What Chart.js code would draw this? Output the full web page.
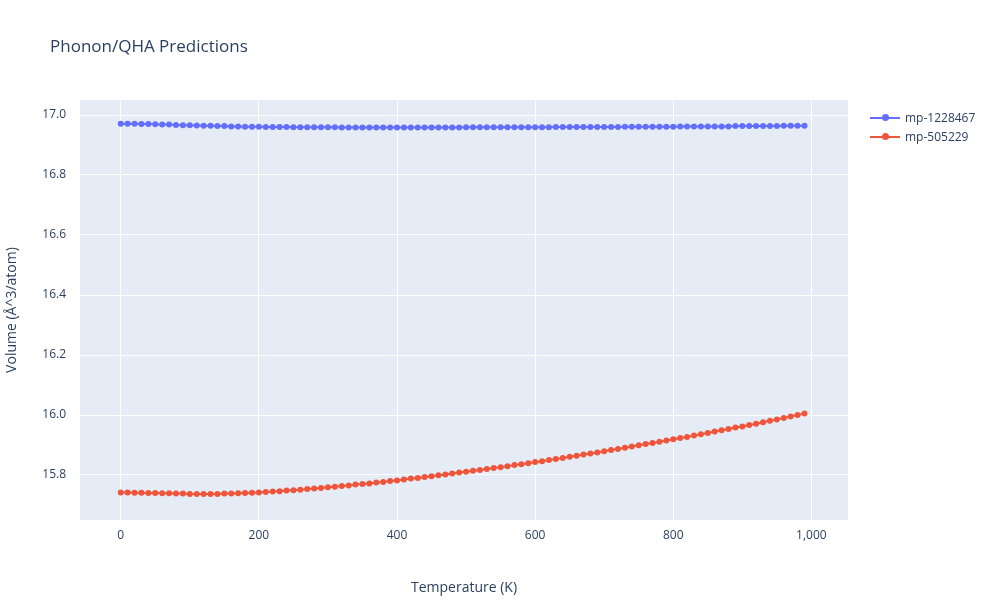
<!DOCTYPE html>
<html>
<head>
<meta charset="utf-8">
<script src="https://cdn.jsdelivr.net/npm/chart.js@4"></script>
<style>
body{margin:0;background:#fff;font-family:"Open Sans",sans-serif;}
#wrap{position:relative;width:1000px;height:600px;}
#title{position:absolute;left:50px;top:34px;font-size:17px;color:#2a3f5f;}
#legend{position:absolute;left:870px;top:108px;font-size:12px;color:#2a3f5f;}
.item{display:flex;align-items:center;height:19px;}
.sw{position:relative;width:30px;height:2px;margin-right:5px;}
.sw i{position:absolute;left:12px;top:-3px;width:7px;height:7px;border-radius:50%;}
</style>
</head>
<body>
<div id="wrap">
<canvas id="chart" width="1000" height="600"></canvas>
<div id="title">Phonon/QHA Predictions</div>
<div id="legend">
<div class="item"><div class="sw" style="background:#636efa"><i style="background:#636efa"></i></div>mp-1228467</div>
<div class="item"><div class="sw" style="background:#EF553B"><i style="background:#EF553B"></i></div>mp-505229</div>
</div>
</div>
<script>
// DATA

const temps = [0,10,20,30,40,50,60,70,80,90,100,110,120,130,140,150,160,170,180,190,200,210,220,230,240,250,260,270,280,290,300,310,320,330,340,350,360,370,380,390,400,410,420,430,440,450,460,470,480,490,500,510,520,530,540,550,560,570,580,590,600,610,620,630,640,650,660,670,680,690,700,710,720,730,740,750,760,770,780,790,800,810,820,830,840,850,860,870,880,890,900,910,920,930,940,950,960,970,980,990];

const volBlue = [16.971,16.971,16.971,16.970,16.970,16.969,16.968,16.968,16.967,16.966,16.966,16.965,16.964,16.964,16.963,16.963,16.962,16.962,16.961,16.961,16.961,16.960,16.960,16.960,16.960,16.959,16.959,16.959,16.959,16.959,16.959,16.959,16.958,16.958,16.958,16.958,16.958,16.958,16.958,16.958,16.958,16.958,16.958,16.958,16.958,16.958,16.958,16.958,16.958,16.958,16.959,16.959,16.959,16.959,16.959,16.959,16.959,16.959,16.959,16.959,16.959,16.959,16.959,16.960,16.960,16.960,16.960,16.960,16.960,16.960,16.960,16.960,16.960,16.961,16.961,16.961,16.961,16.961,16.961,16.961,16.961,16.962,16.962,16.962,16.962,16.962,16.962,16.962,16.962,16.963,16.963,16.963,16.963,16.963,16.963,16.963,16.964,16.964,16.964,16.964];

const volRed = [15.742,15.742,15.741,15.741,15.740,15.740,15.739,15.739,15.738,15.738,15.737,15.737,15.737,15.737,15.737,15.738,15.738,15.739,15.740,15.741,15.742,15.743,15.745,15.746,15.748,15.749,15.751,15.753,15.755,15.757,15.759,15.761,15.763,15.765,15.768,15.770,15.772,15.775,15.777,15.780,15.782,15.785,15.788,15.790,15.793,15.796,15.799,15.802,15.805,15.808,15.811,15.814,15.817,15.820,15.823,15.826,15.829,15.833,15.836,15.839,15.843,15.846,15.850,15.853,15.857,15.861,15.864,15.868,15.872,15.875,15.879,15.883,15.887,15.891,15.895,15.899,15.903,15.907,15.911,15.915,15.919,15.923,15.927,15.932,15.936,15.940,15.945,15.949,15.953,15.958,15.962,15.967,15.971,15.976,15.981,15.985,15.990,15.995,16.000,16.005];

const seriesNames = ["mp-1228467","mp-505229"];
const xTicks = [0,200,400,600,800,1000];
const yTicks = [15.8,16,16.2,16.4,16.6,16.8,17];

// CHART

function pts(vals){
return temps.map(function(t,i){ return {x:t,y:vals[i]}; });
}

const plotBg = {
id:"plotBg",
beforeDraw(chart){
const a = chart.chartArea;
const ctx = chart.ctx;
ctx.save();
ctx.fillStyle = "#e5ecf6";
ctx.fillRect(a.left,a.top,a.right-a.left,a.bottom-a.top);
ctx.restore();
}
};

new Chart(
document.getElementById("chart"),
{
type:"line",
data:{
datasets:[
{label:seriesNames[0],data:pts(volBlue),borderColor:"#636efa",backgroundColor:"#636efa",borderWidth:2,pointRadius:3,pointBorderWidth:0},
{label:seriesNames[1],data:pts(volRed),borderColor:"#EF553B",backgroundColor:"#EF553B",borderWidth:2,pointRadius:3,pointBorderWidth:0}
]
},
options:{
responsive:false,
animation:false,
layout:{padding:{left:0,right:152,top:100,bottom:0}},
plugins:{legend:{display:false},tooltip:{enabled:false}},
scales:{
x:{
type:"linear",min:-59,max:1053,
afterBuildTicks(s){ s.ticks = xTicks.map(function(v){return {value:v};}); },
afterFit(s){ s.height = 80; },
grid:{color:"#ffffff",lineWidth:1,drawTicks:false},
border:{display:false},
ticks:{color:"#2a3f5f",font:{family:"Open Sans",size:12},padding:8,maxRotation:0},
title:{display:true,text:"Temperature (K)",color:"#2a3f5f",font:{family:"Open Sans",size:14},padding:{top:12}}
},
y:{
min:15.65,max:17.05,
afterBuildTicks(s){ s.ticks = yTicks.map(function(v){return {value:v};}); },
afterFit(s){ s.width = 80; },
grid:{color:"#ffffff",lineWidth:1,drawTicks:false},
border:{display:false},
ticks:{color:"#2a3f5f",font:{family:"Open Sans",size:12},padding:14},
title:{display:true,text:"Volume (Å^3/atom)",color:"#2a3f5f",font:{family:"Open Sans",size:14},padding:{bottom:2}}
}
}
},
plugins:[plotBg]
}
);
</script>
</body>
</html>
